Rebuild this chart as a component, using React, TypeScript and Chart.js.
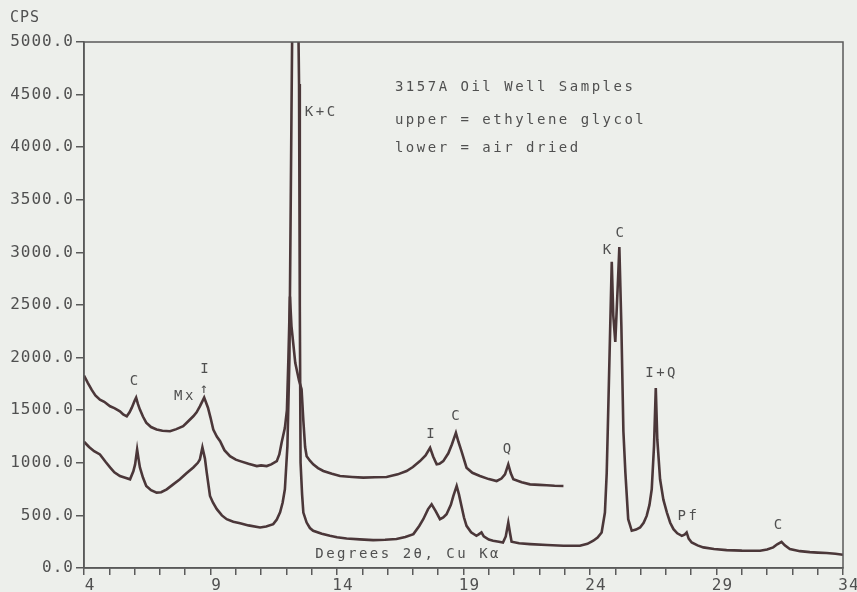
import React, { useEffect, useRef } from "react";
import { Chart, registerables } from "chart.js";
Chart.register(...registerables);

// Upper trace: ethylene glycol (degrees 2θ, CPS)
const upperDeg = [
  4.0, 4.15, 4.3, 4.45, 4.63, 4.8, 5.03, 5.2, 5.42, 5.55, 5.69, 5.8, 5.89, 6.0, 6.06, 6.13, 6.21, 6.33, 6.46, 6.65,
  6.87, 7.1, 7.4, 7.65, 7.92, 8.1, 8.32, 8.45, 8.58, 8.75, 8.9, 9.0, 9.11, 9.25, 9.38, 9.55, 9.77, 10.0, 10.17, 10.5,
  10.83, 11.0, 11.22, 11.4, 11.62, 11.72, 11.81, 11.94, 12.02, 12.08, 12.14, 12.2, 12.35, 12.5, 12.6, 12.67, 12.74, 12.8,
  12.93, 13.06, 13.25, 13.46, 13.8, 14.12, 14.6, 15.04, 15.5, 15.96, 16.4, 16.75, 17.0, 17.28, 17.5, 17.68, 17.8, 17.94,
  18.05, 18.2, 18.4, 18.54, 18.7, 18.8, 18.92, 19.12, 19.35, 19.65, 20.0, 20.31, 20.5, 20.64, 20.77, 20.87, 20.97, 21.3,
  21.63, 22.0, 22.29, 22.6, 22.95,
];
const upperCps = [
  1830, 1760, 1695, 1640, 1600, 1580, 1537, 1520, 1490, 1460, 1442, 1480, 1524, 1590, 1619, 1560, 1506, 1440, 1382, 1340,
  1316, 1305, 1300, 1320, 1348, 1390, 1442, 1480, 1537, 1620, 1524, 1430, 1316, 1250, 1206, 1120, 1063, 1030, 1016, 990,
  969, 975, 969, 985, 1016, 1080, 1190, 1332, 1500, 2000, 2580, 2300, 1950, 1780, 1700, 1400, 1150, 1063,
  1020, 985, 950, 922, 895, 874, 865, 859, 862, 865, 890, 922, 960, 1016, 1070, 1143, 1060, 985,
  990, 1016, 1090, 1174, 1285, 1200, 1111, 953, 905, 874, 845, 827, 850, 890, 985, 900, 843, 815,
  795, 790, 786, 782, 780,
];

// Lower trace: air dried
const lowerDeg = [
  4.0, 4.2, 4.4, 4.63, 4.85, 5.03, 5.2, 5.42, 5.6, 5.82, 5.95, 6.02, 6.1, 6.16, 6.21, 6.33, 6.46, 6.65, 6.87, 7.05,
  7.27, 7.5, 7.79, 8.05, 8.32, 8.5, 8.58, 8.68, 8.78, 8.85, 8.98, 9.1, 9.25, 9.45, 9.64, 9.9, 10.17, 10.5, 10.96, 11.2,
  11.48, 11.62, 11.75, 11.85, 11.94, 12.04, 12.12, 12.2, 12.24, 12.46, 12.5, 12.53, 12.56, 12.62, 12.67, 12.8, 12.93, 13.06,
  13.4, 13.72, 14.0, 14.38, 14.9, 15.43, 15.9, 16.35, 16.7, 17.02, 17.25, 17.41, 17.6, 17.74, 17.9, 18.07, 18.2, 18.33,
  18.5, 18.6, 18.73, 18.82, 18.92, 19.02, 19.12, 19.3, 19.51, 19.6, 19.71, 19.8, 20.0, 20.17, 20.4, 20.56, 20.67, 20.77,
  20.84, 20.9, 21.2, 21.63, 22.3, 22.95, 23.6, 23.9, 24.13, 24.3, 24.46, 24.59, 24.66, 24.7, 24.8, 24.86, 24.92, 25.0,
  25.1, 25.16, 25.24, 25.32, 25.4, 25.51, 25.65, 25.82, 25.98, 26.12, 26.24, 26.35, 26.44, 26.53, 26.6, 26.66, 26.77,
  26.9, 27.04, 27.17, 27.3, 27.45, 27.63, 27.75, 27.82, 27.9, 28.02, 28.25, 28.48, 28.9, 29.4, 30.0, 30.72, 31.0, 31.24,
  31.4, 31.57, 31.7, 31.9, 32.3, 32.69, 33.0, 33.35, 33.7, 34.0,
];
const lowerCps = [
  1200, 1150, 1110, 1080, 1010, 956, 910, 874, 860, 843, 920, 985, 1127, 1030, 956, 860, 780, 740, 717, 720,
  748, 790, 843, 900, 956, 1000, 1032, 1146, 1040, 909, 685, 620, 559, 500, 464, 440, 426, 405, 385, 395,
  417, 460, 530, 620, 748, 1158, 2000, 4300, 5400, 5400, 4600, 2500, 1000, 700, 527, 432, 380, 354,
  325, 306, 292, 281, 272, 265, 268, 275, 295, 322, 400, 464, 560, 606, 540, 464, 480, 511,
  600, 685, 780, 700, 590, 480, 401, 340, 306, 320, 338, 300, 270, 259, 250, 243, 300, 432,
  330, 250, 235, 227, 218, 211, 211, 230, 259, 290, 338, 527, 900, 1290, 2300, 2910, 2400, 2150,
  2700, 3050, 2300, 1300, 900, 464, 354, 365, 385, 430, 495, 600, 748, 1158, 1711, 1222, 843,
  650, 527, 430, 369, 330, 306, 320, 338, 280, 243, 215, 196, 180, 170, 165, 164, 175, 196,
  225, 249, 215, 180, 160, 151, 146, 142, 135, 126,
];

const xMajorTicks = [4, 9, 14, 19, 24, 29, 34];
const yMin = 0;
const yMax = 5000;
const yStep = 500;

// Peak labels and notes, placed in data coordinates
const noteText = [
  "C", "Mx", "I", "↑", "K+C",
  "3157A Oil Well Samples", "upper = ethylene glycol", "lower = air dried",
  "I", "C", "Q", "K", "C", "I+Q", "Pf", "C", "Degrees 2θ, Cu Kα",
];
const noteDeg = [6.02, 7.99, 8.81, 8.78, 12.73, 16.29, 16.29, 16.29, 17.74, 18.73, 20.77, 24.72, 25.22, 26.83, 27.89, 31.48, 16.81];
const noteCps = [1774, 1632, 1884, 1695, 4328, 4567, 4252, 3987, 1269, 1442, 1127, 3021, 3179, 1853, 490, 401, 133];
const noteLeft = [false, false, false, false, true, true, true, true, false, false, false, false, false, false, false, false, false];

const BG = "#edefeb";
const INK = "#4b3739";
const TEXT = "#505050";
const FONT = "'DejaVu Sans Mono', 'Liberation Mono', monospace";

export default function App() {
  const ref = useRef<HTMLCanvasElement | null>(null);

  useEffect(() => {
    document.body.style.margin = "0";
    document.body.style.background = BG;
    const canvas = ref.current;
    if (!canvas) return;

    const upper = upperDeg.map((x, i) => ({ x, y: upperCps[i] }));
    const lower = lowerDeg.map((x, i) => ({ x, y: lowerCps[i] }));

    const spacingPlugin = {
      id: "spacing",
      beforeUpdate(chart: any) {
        chart.ctx.letterSpacing = "1px";
      },
      beforeDraw(chart: any) {
        const ctx = chart.ctx;
        ctx.save();
        ctx.fillStyle = BG;
        ctx.fillRect(0, 0, chart.width, chart.height);
        ctx.restore();
        ctx.letterSpacing = "1px";
      },
      afterDatasetsDraw(chart: any) {
        const ctx = chart.ctx;
        const xs = chart.scales.x;
        const ys = chart.scales.y;
        const a = chart.chartArea;
        ctx.save();
        ctx.strokeStyle = "#5a5a5a";
        ctx.lineWidth = 1.5;
        ctx.strokeRect(a.left, a.top, a.right - a.left, a.bottom - a.top);
        ctx.fillStyle = TEXT;
        ctx.font = `14px ${FONT}`;
        ctx.letterSpacing = "2.5px";
        ctx.textBaseline = "middle";
        noteText.forEach((t, i) => {
          const px = xs.getPixelForValue(noteDeg[i]);
          const py = ys.getPixelForValue(noteCps[i]);
          ctx.textAlign = noteLeft[i] ? "left" : "center";
          ctx.fillText(t, px, py);
        });
        ctx.font = `15px ${FONT}`;
        ctx.letterSpacing = "1px";
        ctx.textAlign = "center";
        ctx.fillText("CPS", a.left - 59, a.top - 24);
        ctx.restore();
      },
    };

    const chart = new Chart(canvas, {
      type: "line",
      data: {
        datasets: [
          { label: "upper = ethylene glycol", data: upper, borderColor: INK, borderWidth: 2.6, pointRadius: 0, tension: 0 },
          { label: "lower = air dried", data: lower, borderColor: INK, borderWidth: 2.6, pointRadius: 0, tension: 0 },
        ],
      },
      options: {
        responsive: false,
        animation: false,
        parsing: true,
        layout: { padding: { top: 42, right: 14, left: 0, bottom: 0 } },
        plugins: { legend: { display: false }, tooltip: { enabled: false } },
        scales: {
          x: {
            type: "linear",
            min: 4,
            max: 34,
            afterFit: (s: any) => {
              s.height = 24;
              s.paddingLeft = 0;
              s.paddingRight = 0;
            },
            ticks: {
              stepSize: 1,
              autoSkip: false,
              maxRotation: 0,
              padding: 1,
              labelOffset: 6,
              color: TEXT,
              font: { family: FONT, size: 16 },
              callback: (v: any) => (xMajorTicks.includes(Number(v)) ? String(v) : ""),
            },
            grid: { drawOnChartArea: false, drawTicks: true, tickLength: 7, color: "#5a5a5a", lineWidth: 1.5 },
            border: { display: true, color: "#5a5a5a", width: 1.5 },
          },
          y: {
            type: "linear",
            min: yMin,
            max: yMax,
            afterFit: (s: any) => {
              s.width = 84;
              s.paddingTop = 0;
              s.paddingBottom = 0;
            },
            ticks: {
              stepSize: yStep,
              padding: 2,
              color: TEXT,
              font: { family: FONT, size: 16 },
              callback: (v: any) => Number(v).toFixed(1),
            },
            grid: { drawOnChartArea: false, drawTicks: true, tickLength: 8, color: "#5a5a5a", lineWidth: 1.5 },
            border: { display: true, color: "#5a5a5a", width: 1.5 },
          },
        },
      },
      plugins: [spacingPlugin],
    } as any);

    return () => chart.destroy();
  }, []);

  return (
    <div style={{ width: 857, height: 592, background: BG }}>
      <canvas ref={ref} width={857} height={592} style={{ display: "block" }} />
    </div>
  );
}
